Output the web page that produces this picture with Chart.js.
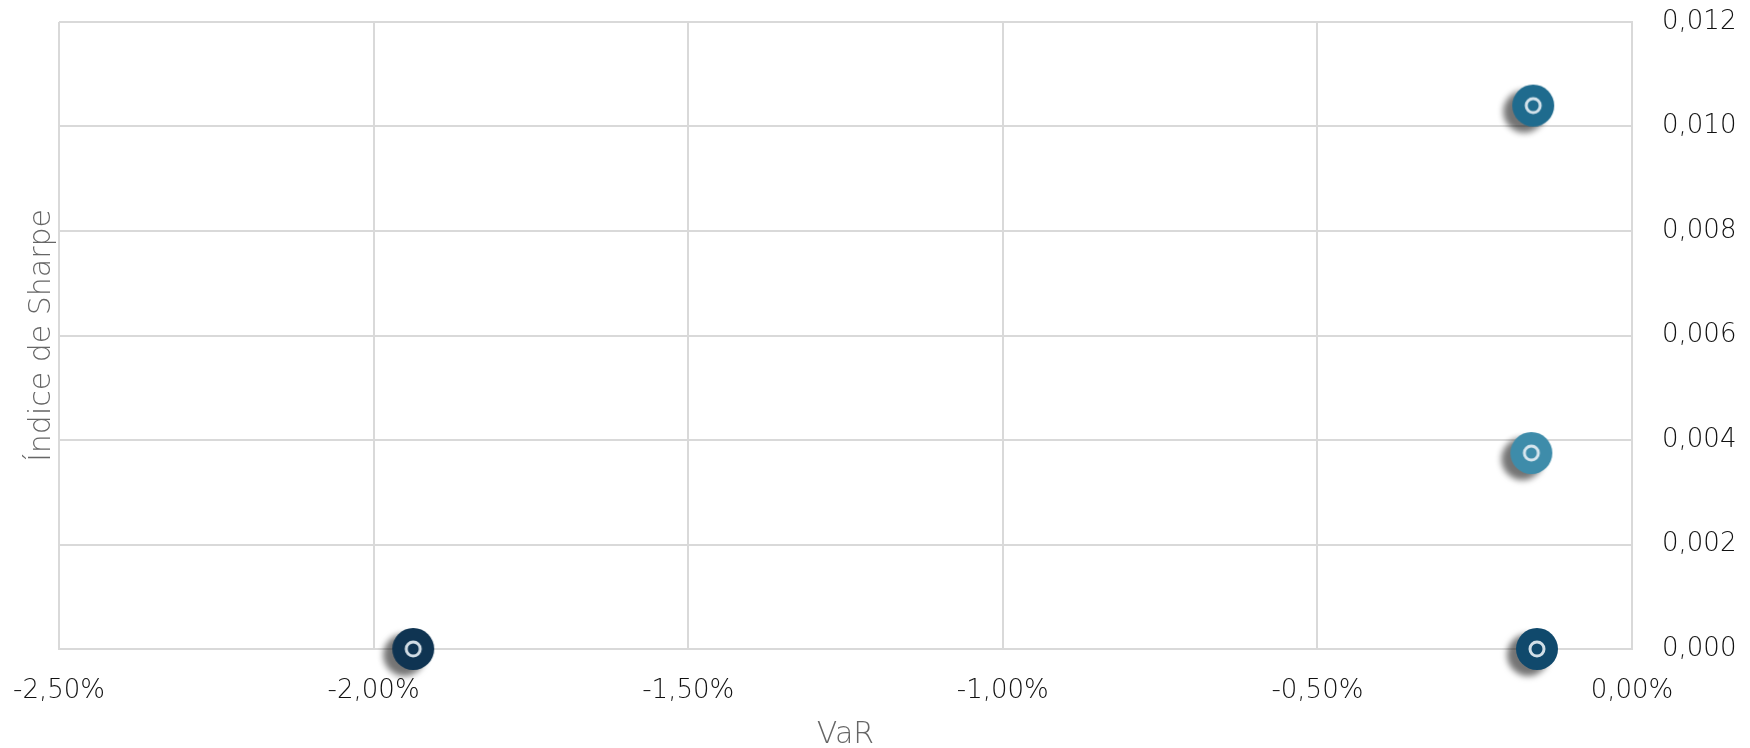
<!DOCTYPE html>
<html>
<head>
<meta charset="utf-8">
<script src="https://cdn.jsdelivr.net/npm/chart.js@4.4.1/dist/chart.umd.min.js"></script>
<style>
  html, body { margin: 0; padding: 0; background: #fff; }
  #wrap { width: 1750px; height: 748px; }
</style>
</head>
<body>
<div id="wrap"><canvas id="riskChart" width="1750" height="748"></canvas></div>
<script>
    // Dados do gráfico
    const varValues = [-0.157, -0.16, -1.937, -0.151];      // VaR (%)
    const sharpeValues = [0.0104, 0.00375, 0, 0];           // Índice de Sharpe
    const pointColors = ['#1f6b8e', '#3e8caa', '#0f3452', '#10496c'];
    const xTicks = [-2.5, -2.0, -1.5, -1.0, -0.5, 0];
    const yTicks = [0, 0.002, 0.004, 0.006, 0.008, 0.010, 0.012];

    // Marcador: círculo com sombra e anel branco
    function makeMarker(color) {
        const c = document.createElement('canvas');
        c.width = 90;
        c.height = 90;
        const g = c.getContext('2d');
        g.save();
        g.shadowColor = 'rgba(0,0,0,0.55)';
        g.shadowBlur = 6;
        g.shadowOffsetX = -9;
        g.shadowOffsetY = 6;
        g.beginPath();
        g.arc(45, 45, 21, 0, Math.PI * 2);
        g.fillStyle = color;
        g.fill();
        g.restore();
        g.beginPath();
        g.arc(45, 45, 7, 0, Math.PI * 2);
        g.lineWidth = 3;
        g.strokeStyle = 'rgba(232,240,245,0.9)';
        g.stroke();
        return c;
    }
    const markers = pointColors.map(makeMarker);

    const points = varValues.map((v, i) => ({ x: v, y: sharpeValues[i] }));

    const gridColor = '#d9d9d9';
    const tickFont = { family: 'DejaVu Sans', size: 26, weight: 200 };
    const titleFont = { family: 'DejaVu Sans', size: 30, weight: 200 };

    const config = {
        type: 'scatter',
        data: {
            datasets: [{
                data: points,
                pointStyle: markers,
                pointRadius: 21,
                backgroundColor: pointColors,
                clip: false
            }]
        },
        options: {
            responsive: false,
            animation: false,
            events: [],
            layout: { padding: { top: 13, left: 0, right: 0, bottom: 0 } },
            plugins: {
                legend: { display: false },
                tooltip: { enabled: false }
            },
            scales: {
                x: {
                    type: 'linear',
                    min: -2.5,
                    max: 0,
                    afterBuildTicks: (s) => { s.ticks = xTicks.map(v => ({ value: v })); },
                    afterFit: (s) => { s.height = 99; s.paddingLeft = 0; s.paddingRight = 0; },
                    grid: { color: gridColor, lineWidth: 2, drawTicks: false },
                    border: { color: gridColor, width: 2 },
                    ticks: {
                        color: '#111',
                        font: tickFont,
                        padding: 27,
                        maxRotation: 0,
                        callback: (v) => Number(v).toFixed(2).replace('.', ',') + '%'
                    },
                    title: {
                        display: true,
                        text: 'VaR',
                        color: '#666',
                        font: titleFont,
                        padding: { top: 0, bottom: -5 }
                    }
                },
                y: {
                    type: 'linear',
                    position: 'right',
                    min: 0,
                    max: 0.012,
                    afterBuildTicks: (s) => { s.ticks = yTicks.map(v => ({ value: v })); },
                    afterFit: (s) => { s.width = 118; s.paddingTop = 0; s.paddingBottom = 0; },
                    grid: { color: gridColor, lineWidth: 2, drawTicks: false },
                    border: { color: gridColor, width: 2 },
                    ticks: {
                        color: '#111',
                        font: tickFont,
                        padding: 30,
                        callback: (v) => Number(v).toFixed(3).replace('.', ',')
                    }
                },
                yTitle: {
                    type: 'linear',
                    position: 'left',
                    min: 0,
                    max: 1,
                    afterFit: (s) => { s.width = 59; s.paddingTop = 0; s.paddingBottom = 0; },
                    grid: { display: false, drawTicks: false },
                    border: { display: false },
                    ticks: { display: false },
                    title: {
                        display: true,
                        text: 'Índice de Sharpe',
                        color: '#666',
                        font: titleFont,
                        padding: { top: 24, bottom: 0 }
                    }
                }
            }
        }
    };

    const ctx = document.getElementById('riskChart').getContext('2d');
    new Chart(ctx, config);
</script>
</body>
</html>
